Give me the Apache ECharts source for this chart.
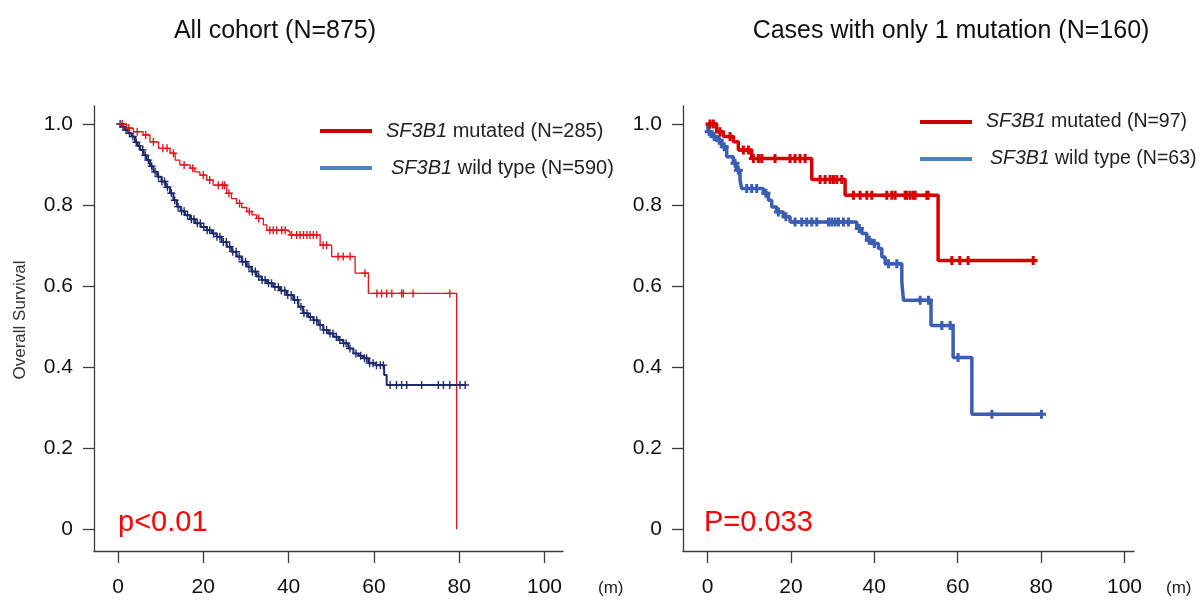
<!DOCTYPE html>
<html>
<head>
<meta charset="utf-8">
<script src="https://cdn.jsdelivr.net/npm/echarts@6/dist/echarts.min.js"></script>
<style>
  html, body { margin: 0; padding: 0; background: #fff; }
  #chart { width: 1201px; height: 605px; }
</style>
</head>
<body>
<div id="chart"></div>
<script>
// ---- Kaplan–Meier curves: step times (months) and survival after each step ----

// All cohort, SF3B1 mutated (N=285)
const allMutTime = [0, 2.0, 3.6, 5.9, 7.5, 9.5, 12.2, 13.4, 14.5, 16.9, 18.0, 19.2, 20.8, 22.3, 25.5, 26.6, 27.8, 29.0, 30.2, 31.4, 32.5, 34.1, 34.9, 39.5, 40.3, 47.4, 50.1, 55.6, 58.7, 79.4];
const allMutSurv = [1.0, 0.990, 0.981, 0.973, 0.956, 0.940, 0.928, 0.911, 0.899, 0.891, 0.882, 0.874, 0.862, 0.849, 0.829, 0.816, 0.804, 0.794, 0.784, 0.776, 0.767, 0.751, 0.738, 0.734, 0.726, 0.701, 0.673, 0.632, 0.582, 0.0];
const allMutCensor = [1.0, 2.5, 4.5, 6.5, 8.3, 10.5, 11.5, 13.0, 15.5, 17.5, 20.0, 21.5, 23.5, 24.5, 25.0, 26.0, 28.5, 30.8, 33.0, 35.6, 36.4, 37.2, 38.4, 39.2, 40.7, 41.9, 42.7, 43.5, 44.3, 45.0, 45.8, 46.6, 48.1, 48.9, 51.6, 52.8, 54.4, 57.9, 60.7, 61.8, 63.0, 64.2, 66.5, 66.9, 69.2, 77.8];

// All cohort, SF3B1 wild type (N=590)
const allWtTime = [0, 0.8, 1.6, 2.4, 3.2, 4.0, 4.6, 5.2, 6.0, 6.7, 7.5, 8.3, 9.2, 10.2, 11.2, 12.2, 13.0, 13.8, 14.7, 15.7, 16.9, 18.1, 19.4, 20.8, 22.0, 23.1, 24.3, 25.5, 26.6, 27.8, 29.0, 30.2, 31.3, 32.5, 33.7, 34.9, 36.4, 38.0, 39.5, 41.1, 42.3, 43.4, 44.6, 45.8, 47.0, 48.1, 49.3, 50.5, 51.7, 52.8, 54.0, 55.2, 56.4, 57.5, 58.7, 60.5, 62.4, 63.0, 81.4];
const allWtSurv = [1.0, 0.993, 0.985, 0.977, 0.969, 0.955, 0.946, 0.936, 0.923, 0.911, 0.896, 0.882, 0.870, 0.858, 0.844, 0.829, 0.812, 0.796, 0.785, 0.775, 0.765, 0.755, 0.746, 0.738, 0.730, 0.722, 0.709, 0.697, 0.685, 0.673, 0.660, 0.648, 0.636, 0.624, 0.615, 0.607, 0.598, 0.589, 0.578, 0.566, 0.549, 0.533, 0.524, 0.516, 0.504, 0.492, 0.483, 0.475, 0.467, 0.459, 0.446, 0.434, 0.428, 0.422, 0.410, 0.405, 0.381, 0.356, 0.356];
const allWtCensor = [0.5, 1.2, 1.9, 2.7, 3.5, 4.3, 5.0, 5.8, 6.4, 7.1, 7.9, 8.7, 9.5, 10.3, 10.9, 11.6, 12.5, 13.3, 14.1, 14.9, 15.5, 16.3, 17.2, 17.8, 18.6, 19.3, 20.1, 20.9, 21.5, 22.4, 23.2, 23.9, 24.7, 25.4, 26.2, 26.9, 27.7, 28.4, 29.2, 29.9, 30.7, 31.5, 32.2, 33.0, 33.8, 34.5, 35.3, 36.0, 36.8, 37.6, 38.3, 39.1, 39.8, 40.6, 41.4, 42.1, 42.9, 43.6, 44.3, 45.1, 45.9, 46.6, 47.4, 48.2, 48.9, 49.7, 50.4, 51.2, 52.0, 52.9, 53.5, 54.4, 55.8, 56.9, 57.8, 58.3, 59.0, 59.8, 60.6, 61.5, 62.2, 63.8, 65.3, 66.5, 67.7, 71.2, 75.1, 76.3, 77.8, 80.2, 81.4];

// Single-mutation cases, SF3B1 mutated (N=97)
const oneMutTime = [0, 2.2, 3.8, 6.2, 7.4, 10.6, 25.0, 33.0, 55.3, 78.9];
const oneMutSurv = [1.0, 0.981, 0.969, 0.956, 0.936, 0.915, 0.863, 0.824, 0.663, 0.663];
const oneMutCensor = [0.6, 1.4, 3.0, 5.4, 8.6, 9.8, 11.0, 12.2, 13.0, 16.2, 19.8, 21.0, 22.2, 23.4, 27.0, 28.2, 29.4, 30.2, 31.0, 32.2, 35.0, 36.6, 38.2, 39.4, 43.0, 44.2, 45.0, 47.4, 47.8, 48.6, 49.4, 49.8, 52.6, 52.9, 58.6, 60.5, 62.5, 78.1];

// Single-mutation cases, SF3B1 wild type (N=63)
const oneWtTime = [0, 0.2, 1.0, 2.2, 3.4, 4.6, 6.2, 7.0, 7.8, 8.2, 13.4, 14.6, 15.4, 16.6, 18.2, 19.8, 35.8, 37.0, 38.2, 39.4, 41.0, 41.8, 42.6, 46.6, 47.0, 53.6, 58.9, 63.4, 80.5];
const oneWtSurv = [1.0, 0.981, 0.969, 0.960, 0.944, 0.919, 0.903, 0.886, 0.861, 0.841, 0.829, 0.812, 0.795, 0.783, 0.771, 0.758, 0.742, 0.730, 0.713, 0.705, 0.693, 0.672, 0.655, 0.610, 0.565, 0.503, 0.424, 0.284, 0.284];
const oneWtCensor = [0.4, 1.6, 2.8, 4.0, 6.6, 7.4, 9.4, 10.6, 11.8, 14.0, 17.0, 18.8, 21.0, 22.6, 23.8, 25.0, 26.2, 29.0, 29.8, 30.6, 31.4, 32.6, 33.8, 36.4, 38.8, 40.0, 43.4, 45.4, 51.0, 53.0, 56.2, 58.2, 60.1, 68.2, 80.1];

// Axis ticks
const xTicks = [0, 20, 40, 60, 80, 100];
const yTicks = [0, 0.2, 0.4, 0.6, 0.8, 1.0];

// Text
const titles = ['All cohort (N=875)', 'Cases with only 1 mutation (N=160)'];
const pValues = ['p<0.01', 'P=0.033'];
const legendAll = ['{i|SF3B1} mutated (N=285)', '{i|SF3B1} wild type (N=590)'];
const legendOne = ['{i|SF3B1} mutated (N=97)', '{i|SF3B1} wild type (N=63)'];

// ---- helpers ----
const FONT = '"Liberation Sans", Arial, Helvetica, sans-serif';
const CROSS_THIN = 'path://M-1.2,-7H1.2V-1.2H7V1.2H1.2V7H-1.2V1.2H-7V-1.2H-1.2Z';
const CROSS_THICK = 'path://M-1,-3H1V-1H3V1H1V3H-1V1H-3V-1H-1Z';

function pairs(times, surv) {
  return times.map((t, i) => [t, surv[i]]);
}
function survAt(times, surv, t) {
  let s = surv[0];
  for (let i = 0; i < times.length; i++) {
    if (times[i] <= t) s = surv[i]; else break;
  }
  return s;
}
function censorPoints(times, surv, cens) {
  return cens.map(t => [t, survAt(times, surv, t)]);
}

function xAxisFor(gridIndex, min, max) {
  return {
    type: 'value', gridIndex, min, max,
    axisLine: { show: true, onZero: false, lineStyle: { color: '#3c3c3c', width: 1.3 } },
    axisTick: { show: true, length: 12, customValues: xTicks, lineStyle: { color: '#3c3c3c', width: 1.3 } },
    axisLabel: { customValues: xTicks, margin: 26, color: '#111', fontSize: 21, fontFamily: FONT },
    splitLine: { show: false }
  };
}
function yAxisFor(gridIndex) {
  return {
    type: 'value', gridIndex, min: -0.0535, max: 1.0444,
    axisLine: { show: true, onZero: false, lineStyle: { color: '#3c3c3c', width: 1.3 } },
    axisTick: { show: true, length: 11, customValues: yTicks, lineStyle: { color: '#3c3c3c', width: 1.3 } },
    axisLabel: {
      customValues: yTicks, margin: 21, color: '#111', fontSize: 21, fontFamily: FONT,
      formatter: v => (v === 0 ? '0' : v.toFixed(1))
    },
    splitLine: { show: false }
  };
}
function curve(name, idx, times, surv, color, width) {
  return {
    name, type: 'line', step: 'end', xAxisIndex: idx, yAxisIndex: idx,
    data: pairs(times, surv), symbol: 'none', silent: true,
    lineStyle: { color, width }, z: 2
  };
}
function censors(name, idx, times, surv, cens, color, symbol, size) {
  return {
    name, type: 'scatter', xAxisIndex: idx, yAxisIndex: idx,
    data: censorPoints(times, surv, cens), symbol, symbolSize: size, silent: true,
    itemStyle: { color, opacity: 1 }, z: 3
  };
}
function legendRow(x1, x2, y, textX, color, text, size) {
  return [
    { type: 'line', shape: { x1, y1: y, x2, y2: y }, style: { stroke: color, lineWidth: 4 } },
    {
      type: 'text', x: textX, y,
      style: {
        text, fill: '#222', font: size + 'px ' + FONT, verticalAlign: 'middle', align: 'left',
        rich: { i: { fontStyle: 'italic', fontSize: size, fontFamily: FONT, fill: '#222' } }
      }
    }
  ];
}

const RED_L = '#e3141c', NAVY = '#1e2a6e';
const RED_R = '#d70000', BLUE_R = '#3c5db4';

const option = {
  animation: false,
  backgroundColor: '#fff',
  grid: [
    { left: 94, top: 106, width: 469, height: 445 },
    { left: 683, top: 106, width: 451, height: 445 }
  ],
  xAxis: [xAxisFor(0, -5.627, 104.34), xAxisFor(1, -5.875, 102.28)],
  yAxis: [yAxisFor(0), yAxisFor(1)],
  series: [
    curve('wt-all', 0, allWtTime, allWtSurv, NAVY, 2),
    censors('wt-all-c', 0, allWtTime, allWtSurv, allWtCensor, NAVY, CROSS_THIN, 8),
    curve('mut-all', 0, allMutTime, allMutSurv, RED_L, 1.3),
    censors('mut-all-c', 0, allMutTime, allMutSurv, allMutCensor, RED_L, CROSS_THIN, 8),
    curve('wt-one', 1, oneWtTime, oneWtSurv, BLUE_R, 3.5),
    censors('wt-one-c', 1, oneWtTime, oneWtSurv, oneWtCensor, BLUE_R, CROSS_THICK, 9),
    curve('mut-one', 1, oneMutTime, oneMutSurv, RED_R, 3.5),
    censors('mut-one-c', 1, oneMutTime, oneMutSurv, oneMutCensor, RED_R, CROSS_THICK, 9)
  ],
  graphic: [
    { type: 'text', x: 275, y: 31, style: { text: titles[0], font: '25px ' + FONT, fill: '#111', align: 'center', verticalAlign: 'middle' } },
    { type: 'text', x: 951, y: 31, style: { text: titles[1], font: '25px ' + FONT, fill: '#111', align: 'center', verticalAlign: 'middle' } },
    { type: 'text', x: 20, y: 320, rotation: Math.PI / 2, style: { text: 'Overall Survival', font: '17px ' + FONT, fill: '#333', align: 'center', verticalAlign: 'middle' } },
    { type: 'text', x: 598, y: 588, style: { text: '(m)', font: '17px ' + FONT, fill: '#222', align: 'left', verticalAlign: 'middle' } },
    { type: 'text', x: 1166, y: 588, style: { text: '(m)', font: '17px ' + FONT, fill: '#222', align: 'left', verticalAlign: 'middle' } },
    { type: 'text', x: 118, y: 523, style: { text: pValues[0], font: '29px ' + FONT, fill: '#ff0000', align: 'left', verticalAlign: 'middle' } },
    { type: 'text', x: 704, y: 523, style: { text: pValues[1], font: '29px ' + FONT, fill: '#ff0000', align: 'left', verticalAlign: 'middle' } },
    ...legendRow(320, 372, 131, 386, '#c80000', legendAll[0], 20),
    ...legendRow(320, 372, 168, 391, '#4f81bd', legendAll[1], 20),
    ...legendRow(920, 972, 122, 986, '#c80000', legendOne[0], 19.5),
    ...legendRow(920, 972, 159, 990, '#4f81bd', legendOne[1], 19.5)
  ]
};

const chart = echarts.init(document.getElementById('chart'), null, { renderer: 'canvas' });
chart.setOption(option);
</script>
</body>
</html>
